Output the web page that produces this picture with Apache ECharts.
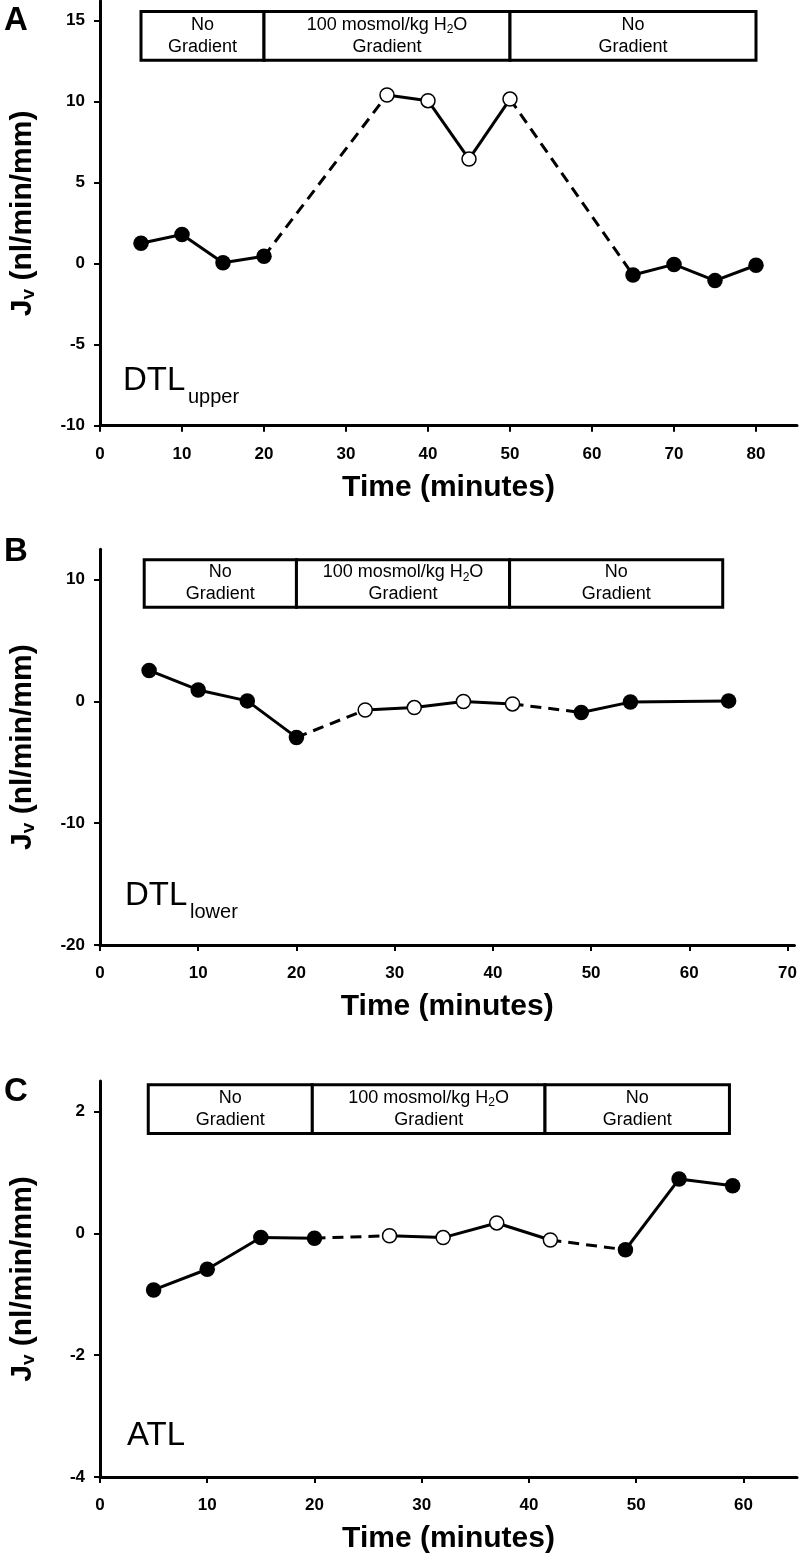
<!DOCTYPE html>
<html><head><meta charset="utf-8">
<script src="https://cdn.jsdelivr.net/npm/echarts@6/dist/echarts.min.js"></script>
<style>html,body{margin:0;padding:0;background:#fff}#c{width:800px;height:1560px}</style>
</head><body><div id="c"></div>
<script>
const FONT = '"Liberation Sans", Arial, Helvetica, sans-serif';

// ---- Panel A: DTL upper ----
const timeA = [5, 10, 15, 20, 35, 40, 45, 50, 65, 70, 75, 80];
const jvA   = [1.25, 1.8, 0.05, 0.45, 10.4, 10.05, 6.45, 10.15, -0.7, -0.05, -1.05, -0.1];
const gradA = [0, 0, 0, 0, 1, 1, 1, 1, 0, 0, 0, 0];
const phaseEdgesA = [5, 20, 50, 80];
const phaseBandA = [12.55, 15.55];
const xTicksA = [0, 10, 20, 30, 40, 50, 60, 70, 80];
const yTicksA = [-10, -5, 0, 5, 10, 15];

// ---- Panel B: DTL lower ----
const timeB = [5, 10, 15, 20, 27, 32, 37, 42, 49, 54, 64];
const jvB   = [2.55, 0.95, 0.05, -2.95, -0.7, -0.5, 0.0, -0.2, -0.9, -0.05, 0.05];
const gradB = [0, 0, 0, 0, 1, 1, 1, 1, 0, 0, 0];
const phaseEdgesB = [4.5, 20, 41.7, 63.4];
const phaseBandB = [7.75, 11.65];
const xTicksB = [0, 10, 20, 30, 40, 50, 60, 70];
const yTicksB = [-20, -10, 0, 10];

// ---- Panel C: ATL ----
const timeC = [5, 10, 15, 20, 27, 32, 37, 42, 49, 54, 59];
const jvC   = [-0.93, -0.59, -0.07, -0.08, -0.04, -0.07, 0.17, -0.11, -0.27, 0.89, 0.78];
const gradC = [0, 0, 0, 0, 1, 1, 1, 1, 0, 0, 0];
const phaseEdgesC = [4.5, 19.8, 41.5, 58.7];
const phaseBandC = [1.64, 2.44];
const xTicksC = [0, 10, 20, 30, 40, 50, 60];
const yTicksC = [-4, -2, 0, 2];

const panelLetters = ['A', 'B', 'C'];
const segmentNames = [['DTL', 'upper'], ['DTL', 'lower'], ['ATL', '']];
const phaseLabels = ['No\nGradient', '100 mosmol/kg H\u2082O\nGradient', 'No\nGradient'];
const xTitle = 'Time (minutes)';
const yTitleMain = 'J', yTitleSub = 'v', yTitleRest = ' (nl/min/mm)';

// layout (pixels / axis extents)
const panels = [
  {time: timeA, jv: jvA, grad: gradA, edges: phaseEdgesA, band: phaseBandA, xt: xTicksA, yt: yTicksA,
   xMax: 85, yMin: -10, yMax: 16.2, yInt: 5, top: 1, height: 424.7,
   letterTop: 4, nameX: 123, nameTop: 364.5, subTop: 387},
  {time: timeB, jv: jvB, grad: gradB, edges: phaseEdgesB, band: phaseBandB, xt: xTicksB, yt: yTicksB,
   xMax: 70.7, yMin: -20, yMax: 12.5, yInt: 10, top: 549.3, height: 395.7,
   letterTop: 535, nameX: 125, nameTop: 879.5, subTop: 902},
  {time: timeC, jv: jvC, grad: gradC, edges: phaseEdgesC, band: phaseBandC, xt: xTicksC, yt: yTicksC,
   xMax: 65, yMin: -4, yMax: 2.5, yInt: 2, top: 1081, height: 396,
   letterTop: 1075, nameX: 127, nameTop: 1419.5, subTop: 1442}
];

function richLabel(t) {
  return t.split('\n').map(l => '{n|' + l.replace('\u2082', '}{s|2}{n|') + '}').join('\n');
}

const grids = [], xAxes = [], yAxes = [], series = [], graphics = [];

panels.forEach((p, i) => {
  grids.push({left: 100, width: 697, top: p.top, height: p.height});
  xAxes.push({
    type: 'value', gridIndex: i, min: 0, max: p.xMax, interval: 10,
    splitLine: {show: false},
    axisLine: {show: true, onZero: false, lineStyle: {color: '#000', width: 3}},
    axisTick: {show: true, length: 6, lineStyle: {color: '#000', width: 2}, customValues: p.xt},
    axisLabel: {margin: 20, color: '#000', fontFamily: FONT, fontWeight: 'bold', fontSize: 17, customValues: p.xt},
    name: xTitle, nameLocation: 'middle', nameGap: 47,
    nameTextStyle: {color: '#000', fontFamily: FONT, fontWeight: 'bold', fontSize: 30}
  });
  yAxes.push({
    type: 'value', gridIndex: i, min: p.yMin, max: p.yMax, interval: p.yInt,
    splitLine: {show: false},
    axisLine: {show: true, onZero: false, lineStyle: {color: '#000', width: 3}},
    axisTick: {show: true, length: 6, lineStyle: {color: '#000', width: 2}, customValues: p.yt},
    axisLabel: {margin: 15, color: '#000', fontFamily: FONT, fontWeight: 'bold', fontSize: 17, customValues: p.yt},
    name: '{m|' + yTitleMain + '}{s|' + yTitleSub + '}{m|' + yTitleRest + '}',
    nameLocation: 'middle', nameGap: 62,
    nameTextStyle: {
      color: '#000',
      rich: {
        m: {fontFamily: FONT, fontWeight: 'bold', fontSize: 30, lineHeight: 30, color: '#000'},
        s: {fontFamily: FONT, fontWeight: 'bold', fontSize: 19, lineHeight: 12, verticalAlign: 'bottom', color: '#000'}
      }
    }
  });

  // connecting line segments: solid within a phase, dashed across a phase change
  for (let k = 0; k < p.time.length - 1; k++) {
    const dashed = p.grad[k] !== p.grad[k + 1];
    series.push({
      type: 'line', xAxisIndex: i, yAxisIndex: i, symbol: 'none', z: 2, silent: true,
      data: [[p.time[k], p.jv[k]], [p.time[k + 1], p.jv[k + 1]]],
      lineStyle: {color: '#000', width: 3, type: dashed ? [11, 7] : 'solid'}
    });
  }
  // markers
  const filled = [], open = [];
  p.time.forEach((t, k) => (p.grad[k] ? open : filled).push([t, p.jv[k]]));
  series.push({type: 'scatter', xAxisIndex: i, yAxisIndex: i, z: 4, symbolSize: 15.5, data: filled,
    itemStyle: {color: '#000', opacity: 1}});
  series.push({type: 'scatter', xAxisIndex: i, yAxisIndex: i, z: 4, symbolSize: 14, data: open,
    itemStyle: {color: '#fff', borderColor: '#000', borderWidth: 1.5, opacity: 1}});

  // phase boxes
  const boxData = [];
  for (let k = 0; k < p.edges.length - 1; k++) boxData.push([p.edges[k], p.edges[k + 1], p.band[0], p.band[1], k]);
  series.push({
    type: 'custom', xAxisIndex: i, yAxisIndex: i, z: 5, clip: false, silent: true,
    encode: {x: [0, 1], y: [2, 3]},
    data: boxData,
    renderItem: (params, api) => {
      const a = api.coord([api.value(0), api.value(3)]);
      const b = api.coord([api.value(1), api.value(2)]);
      return {
        type: 'group',
        children: [
          {type: 'rect', shape: {x: a[0], y: a[1], width: b[0] - a[0], height: b[1] - a[1]},
           style: {fill: '#fff', stroke: '#000', lineWidth: 3}},
          {type: 'text', x: (a[0] + b[0]) / 2, y: (a[1] + b[1]) / 2,
           style: {text: richLabel(phaseLabels[api.value(4)]), align: 'center', verticalAlign: 'middle',
             rich: {
               n: {fontFamily: FONT, fontSize: 18, lineHeight: 22, color: '#000', align: 'center'},
               s: {fontFamily: FONT, fontSize: 12, lineHeight: 12, verticalAlign: 'bottom', color: '#000'}
             }}}
        ]
      };
    }
  });

  graphics.push({type: 'text', left: 4, top: p.letterTop, z: 10,
    style: {text: panelLetters[i], fontFamily: FONT, fontWeight: 'bold', fontSize: 33, fill: '#000'}});
  graphics.push({type: 'text', x: p.nameX, y: p.nameTop, z: 10,
    style: {text: segmentNames[i][0], fontFamily: FONT, fontSize: 33, fill: '#000', verticalAlign: 'top'}});
  if (segmentNames[i][1]) {
    graphics.push({type: 'text', x: p.nameX + 65, y: p.subTop, z: 10,
      style: {text: segmentNames[i][1], fontFamily: FONT, fontSize: 20, fill: '#000', verticalAlign: 'top'}});
  }
});

const chart = echarts.init(document.getElementById('c'), null, {renderer: 'canvas'});
chart.setOption({
  animation: false,
  backgroundColor: '#fff',
  grid: grids, xAxis: xAxes, yAxis: yAxes, series: series, graphic: graphics
});
</script></body></html>
